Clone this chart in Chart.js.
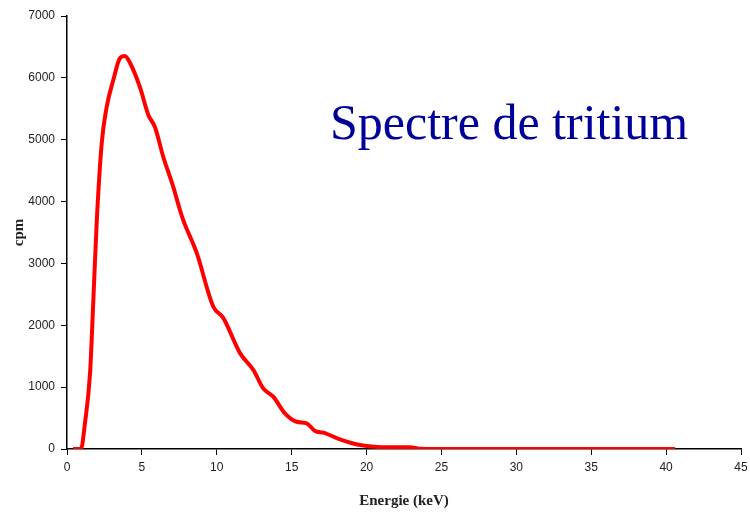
<!DOCTYPE html>
<html>
<head>
<meta charset="utf-8">
<script src="https://cdn.jsdelivr.net/npm/chart.js@4"></script>
<style>
  html, body { margin: 0; padding: 0; background: #fff; }
  #wrap { width: 750px; height: 512px; }
</style>
</head>
<body>
<div id="wrap"><canvas id="spectrum" width="750" height="512"></canvas></div>
<script>
// energy in keV, counts in cpm
const energy = [0.4, 0.93, 1.2, 1.54, 1.76, 1.98, 2.32, 2.65, 3.09, 3.54, 3.87, 4.21, 4.87, 5.43, 5.87, 6.43, 7.1, 7.54, 7.76, 8.66, 9.77, 10.43, 11.55, 12.44, 13.1, 13.77, 14.55, 15.33, 16.0, 16.56, 17.11, 18.22, 19.56, 21.56, 22.9, 23.56, 26.0, 40.6];
const counts = [0, 0, 420, 1230, 2410, 3650, 4950, 5530, 5965, 6320, 6355, 6240, 5850, 5400, 5205, 4720, 4235, 3864, 3700, 3170, 2300, 2120, 1550, 1280, 980, 846, 577, 441, 415, 291, 264, 157, 65, 27, 27, 5, 0, 0];
const xTicks = [0, 5, 10, 15, 20, 25, 30, 35, 40, 45];
const yTicks = [0, 1000, 2000, 3000, 4000, 5000, 6000, 7000];

const canvas = document.getElementById("spectrum");

const tickFont = { family: "'Liberation Sans Narrow', 'Liberation Sans', Arial, sans-serif", size: 12 };

const titleText = {
    id: "titleText",
    afterDraw(chart) {
        const ctx = chart.ctx;
        ctx.save();
        ctx.font = "50px 'Liberation Serif', 'Times New Roman', serif";
        ctx.fillStyle = "#000099";
        ctx.textAlign = "left";
        ctx.textBaseline = "alphabetic";
        ctx.fillText("Spectre de tritium", 330, 139);
        ctx.restore();
    }
};

new Chart(canvas, {
    type: "line",
    data: {
        datasets: [{
            data: energy.map((e, i) => ({ x: e, y: counts[i] })),
            borderColor: "#ff0000",
            borderWidth: 4,
            pointRadius: 0,
            fill: false,
            cubicInterpolationMode: "monotone"
        }]
    },
    options: {
        responsive: false,
        animation: false,
        layout: {
            padding: { left: 0, top: 16, right: 9, bottom: 0 }
        },
        plugins: {
            legend: { display: false },
            tooltip: { enabled: false }
        },
        scales: {
            x: {
                type: "linear",
                min: 0,
                max: 45,
                afterBuildTicks(scale) {
                    scale.ticks = xTicks.map(v => ({ value: v }));
                },
                afterFit(scale) {
                    scale.height = 63;
                    scale.paddingRight = 0;
                    scale.paddingLeft = 0;
                },
                border: { color: "#000", width: 1.5 },
                grid: {
                    drawOnChartArea: false,
                    color: "#000",
                    tickLength: 6
                },
                ticks: {
                    color: "#222",
                    padding: 5,
                    font: tickFont,
                    callback: v => String(v)
                },
                title: {
                    display: true,
                    text: "Energie (keV)",
                    color: "#222",
                    padding: { top: 8, bottom: 2 },
                    font: { family: "'Liberation Serif', 'Times New Roman', serif", size: 15, weight: "bold" }
                }
            },
            y: {
                min: 0,
                max: 7000,
                afterBuildTicks(scale) {
                    scale.ticks = yTicks.map(v => ({ value: v }));
                },
                afterFit(scale) {
                    scale.width = 67;
                },
                border: { color: "#000", width: 1.5 },
                grid: {
                    drawOnChartArea: false,
                    color: "#000",
                    tickLength: 6
                },
                ticks: {
                    color: "#222",
                    padding: 6,
                    font: tickFont,
                    callback: v => String(v)
                },
                title: {
                    display: true,
                    text: "cpm",
                    color: "#222",
                    padding: { top: 10, bottom: 0 },
                    font: { family: "'Liberation Serif', 'Times New Roman', serif", size: 15, weight: "bold" }
                }
            }
        }
    },
    plugins: [titleText]
});
</script>
</body>
</html>
